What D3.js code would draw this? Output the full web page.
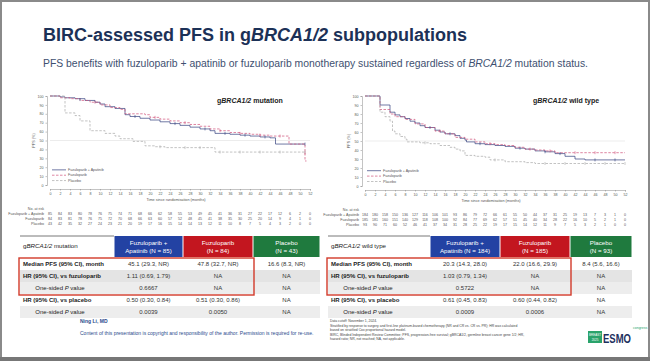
<!DOCTYPE html>
<html>
<head>
<meta charset="utf-8">
<script src="https://cdn.jsdelivr.net/npm/d3@7"></script>
<style>
  body { margin: 0; background: #fff; }
  svg { display: block; font-family: "Liberation Sans", Arial, sans-serif; }
</style>
</head>
<body>
<svg id="slide" width="650" height="361"></svg>
<script>
// x ticks (months) and y ticks (%)
const monthTicks = [0,2,4,6,8,10,12,14,16,18,20,22,24,26,28,30,32,34,36,38,40,42,44,46,48,50,52];
const pctTicks = [0,10,20,30,40,50,60,70,80,90,100];
const armNames = ["Fuzuloparib + Apatinib", "Fuzuloparib", "Placebo"];

// KM steps, gBRCA1/2 mutation  [month, PFS %]
const mutFA  = [[0,100],[2,99],[3,98],[5,97],[7,95],[9,93],[10,91],[11,88],[13,86],[15,79],[16,77],[18,75],[20,73],[22,71],[24,69],[26,67],[28,65],[30,63],[32,61],[33,58],[36,57],[38,56],[40,55],[42,54],[44,53],[45.1,46],[51,46]];
const mutFuz = [[0,100],[2,98],[4,97],[6,95],[8,93],[10,90],[12,87],[14,85],[15,80],[19,79],[20,76],[22,74],[24,72],[26,70],[28,68],[30,66],[32,63],[34,61],[36,59],[38,58],[40,57],[42,56],[44,55],[47.8,46],[51,27],[51.3,27]];
const mutPla = [[0,100],[3,81],[5,78],[6,72],[8,61],[11,58],[13,55],[14,52],[16.6,49],[19,44],[21,43],[23,42],[33,37],[51,37]];
// KM steps, gBRCA1/2 wild type
const wtFA  = [[0,100],[3,90],[5,82],[6,79],[7,77],[8,75],[9,72],[10,70],[11,67],[12,65],[14,62],[15,60],[16,58],[18,56],[19,53],[20,51],[20.3,49],[22,47],[24,46],[26,45],[28,44],[30,42],[32,41],[34,39],[36,38],[38,36],[40,33],[42,30],[44,29],[52,29]];
const wtFuz = [[0,100],[3,85],[5,80],[6,77],[8,74],[10,69],[12,65],[14,61],[16,58],[18,54],[20,52],[22,49],[24,47],[26,46],[28,45],[30,43],[32,41],[34,40],[36,39],[38,37],[52,37]];
const wtPla = [[0,100],[3,82],[4,77],[5,72],[5.5,61],[6,58],[7,55],[8,52],[8.4,49],[11,48],[13,47],[15,45],[17,43],[18,41],[19,39],[20,34],[22,33],[24,32],[25,29],[28,27],[32,26],[34,25],[52,25]];

// censor ticks
const mutFAc  = [[6,96],[17,77],[25,69],[31,63],[35,58],[39,56],[43,54],[51,46]];
const mutFuzc = [[9,93],[21,76],[27,70],[34,61],[38,58],[42,56],[46,55],[51,36]];
const mutPlac = [[22,43],[27,42],[30,42],[34,37],[38,37],[42,37],[46,37],[51,37]];
const wtFAc  = [[13,65],[17,58],[23,47],[31,42],[36,38],[39,36],[46,29],[50,29]];
const wtFuzc = [[15,61],[25,47],[33,41],[37,39],[42,37],[46,37],[50,37]];
const wtPlac = [[12,48],[26,29],[36,25],[40,25],[44,25],[48,25],[52,25]];

// numbers at risk
const mutRiskFA  = [85,84,83,80,78,76,75,74,71,68,66,62,58,55,53,49,45,41,36,31,27,22,17,12,6,2,0];
const mutRiskFuz = [84,83,81,78,76,75,72,70,68,66,63,60,57,52,48,45,41,38,35,30,25,20,14,9,4,1,0];
const mutRiskPla = [43,42,35,32,27,24,23,21,20,19,17,16,15,14,14,13,12,11,10,8,7,5,4,3,2,0,0];
const wtRiskFA  = [184,180,158,150,136,127,116,106,101,93,86,79,72,66,61,55,50,44,37,31,25,19,13,7,3,1,0];
const wtRiskFuz = [185,181,160,151,140,129,118,108,100,92,84,77,69,62,57,51,45,40,34,28,22,16,10,5,2,1,0];
const wtRiskPla = [93,90,71,60,52,46,41,37,34,31,28,25,22,19,17,15,14,12,11,9,7,5,3,2,1,0,0];

// summary tables
const rowLabels = ["Median PFS (95% CI), month", "HR (95% CI), vs fuzuloparib", "One-sided P value", "HR (95% CI), vs placebo", "One-sided P value"];
const mutHeaders = ["Fuzuloparib +|Apatinib (N = 85)", "Fuzuloparib|(N = 84)", "Placebo|(N = 43)"];
const wtHeaders  = ["Fuzuloparib +|Apatinib (N = 184)", "Fuzuloparib|(N = 185)", "Placebo|(N = 93)"];
const mutValues = [
  ["45.1 (29.3, NR)", "47.8 (32.7, NR)", "16.6 (8.3, NR)"],
  ["1.11 (0.69, 1.79)", "NA", "NA"],
  ["0.6667", "NA", "NA"],
  ["0.50 (0.30, 0.84)", "0.51 (0.30, 0.86)", "NA"],
  ["0.0039", "0.0050", "NA"]
];
const wtValues = [
  ["20.3 (14.3, 28.0)", "22.0 (16.6, 29.9)", "8.4 (5.6, 16.6)"],
  ["1.03 (0.79, 1.34)", "NA", "NA"],
  ["0.5722", "NA", "NA"],
  ["0.61 (0.45, 0.83)", "0.60 (0.44, 0.82)", "NA"],
  ["0.0009", "0.0006", "NA"]
];

const footnotes = [
  "Data cutoff: November 1, 2024.",
  "Stratified by response to surgery and first-line platinum-based chemotherapy (NR and CR vs. CR vs. PR); HR was calculated",
  "based on stratified Cox proportional hazard model.",
  "BIRC, Blinded Independent Review Committee; PFS, progression-free survival; gBRCA1/2, germline breast cancer gene 1/2; HR,",
  "hazard ratio; NR, not reached; NA, not applicable."
];

const armColors = ["#34407e", "#d0517a", "#a9a9a9"];
const armDash = [null, "2.5,1.5", "2.5,1.5"];
const headColors = ["#2342a3", "#c3161f", "#1f7a3e"];

const svg = d3.select('#slide');

// slide frame
svg.append('rect').attr('x', 1).attr('y', 1).attr('width', 648).attr('height', 357)
  .attr('fill', '#fff').attr('stroke', '#8a8a8a').attr('stroke-width', 2);
svg.append('rect').attr('x', 0).attr('y', 357).attr('width', 650).attr('height', 4).attr('fill', '#777');

// title
svg.append('text').attr('x', 43).attr('y', 41)
  .attr('font-size', 18).attr('font-weight', 'bold').attr('fill', '#1c3157')
  .call(t => {
    t.append('tspan').text('BIRC-assessed PFS in g');
    t.append('tspan').attr('font-style', 'italic').text('BRCA1/2');
    t.append('tspan').text(' subpopulations');
  });

svg.append('text').attr('x', 43).attr('y', 67)
  .attr('font-size', 10.4).attr('fill', '#3e5070')
  .call(t => {
    t.append('tspan').text('PFS benefits with fuzuloparib + apatinib or fuzuloparib monotherapy sustained regardless of ');
    t.append('tspan').attr('font-style', 'italic').text('BRCA1/2');
    t.append('tspan').text(' mutation status.');
  });

// Kaplan-Meier panel
function drawKM(cfg) {
  const g = svg.append('g');
  const x = d3.scaleLinear().domain([0, 52]).range([cfg.x0, cfg.x1]);
  const y = d3.scaleLinear().domain([0, 100]).range([cfg.yBottom, cfg.yTop]);

  const yAxis = g.append('g').attr('transform', `translate(${cfg.x0 - 3},0)`)
    .call(d3.axisLeft(y).tickValues(pctTicks).tickSize(1.5).tickPadding(2));
  const xAxis = g.append('g').attr('transform', `translate(0,${cfg.yBottom + 4})`)
    .call(d3.axisBottom(x).tickValues(monthTicks).tickSize(1.5).tickPadding(2));
  [xAxis, yAxis].forEach(a => {
    a.selectAll('path,line').attr('stroke', '#888').attr('stroke-width', 0.5);
    a.selectAll('text').attr('font-size', 3.6).attr('fill', '#555').attr('font-family', null);
  });

  // 50% reference
  g.append('line').attr('x1', cfg.x0).attr('x2', cfg.x1)
    .attr('y1', y(50)).attr('y2', y(50))
    .attr('stroke', '#d8d8d8').attr('stroke-width', 0.5);

  g.append('text').attr('transform', `translate(${cfg.x0 - 15},${y(50)}) rotate(-90)`)
    .attr('text-anchor', 'middle').attr('font-size', 3.8).attr('fill', '#555').text('PFS (%)');
  g.append('text').attr('x', (cfg.x0 + cfg.x1) / 2 - 4).attr('y', cfg.yBottom + 16)
    .attr('text-anchor', 'middle').attr('font-size', 3.8).attr('fill', '#555')
    .text('Time since randomisation (months)');

  g.append('text').attr('x', cfg.titleX).attr('y', cfg.yTop + 7)
    .attr('font-size', 7).attr('font-weight', 'bold').attr('fill', '#222')
    .call(t => {
      t.append('tspan').text('g');
      t.append('tspan').attr('font-style', 'italic').text('BRCA1/2');
      t.append('tspan').text(' ' + cfg.title);
    });

  const line = d3.line().x(d => x(d[0])).y(d => y(d[1])).curve(d3.curveStepAfter);
  cfg.curves.forEach((c, i) => {
    g.append('path').datum(c).attr('d', line)
      .attr('fill', 'none').attr('stroke', armColors[i]).attr('stroke-width', 0.7)
      .attr('stroke-dasharray', armDash[i]);
  });
  cfg.censors.forEach((c, i) => {
    g.selectAll(null).data(c).enter().append('line')
      .attr('x1', d => x(d[0])).attr('x2', d => x(d[0]))
      .attr('y1', d => y(d[1]) - 1.5).attr('y2', d => y(d[1]) + 1.5)
      .attr('stroke', armColors[i]).attr('stroke-width', 0.6);
  });

  // legend
  armNames.forEach((n, i) => {
    const ly = y(cfg.legendY[i]);
    g.append('line').attr('x1', cfg.x0 + 2).attr('x2', cfg.x0 + 16).attr('y1', ly).attr('y2', ly)
      .attr('stroke', armColors[i]).attr('stroke-width', 0.7).attr('stroke-dasharray', armDash[i]);
    g.append('text').attr('x', cfg.x0 + 18).attr('y', ly + 1.2)
      .attr('font-size', 3.6).attr('fill', '#555').text(n);
  });

  // number at risk
  const riskTop = cfg.yBottom + 25;
  g.append('text').attr('x', cfg.x0 - 6).attr('y', riskTop)
    .attr('text-anchor', 'end').attr('font-size', 3.6).attr('fill', '#555').text('No. at risk');
  cfg.risk.forEach((r, i) => {
    const ry = riskTop + 5 * (i + 1);
    g.append('text').attr('x', cfg.x0 - 6).attr('y', ry)
      .attr('text-anchor', 'end').attr('font-size', 3.6).attr('fill', '#555').text(armNames[i]);
    g.selectAll(null).data(r).enter().append('text')
      .attr('x', (d, j) => x(monthTicks[j])).attr('y', ry)
      .attr('text-anchor', 'middle').attr('font-size', 3.6).attr('fill', '#555')
      .text(d => d);
  });
}

drawKM({ x0: 50, x1: 310, yTop: 96, yBottom: 185, titleX: 217, title: 'mutation',
  curves: [mutFA, mutFuz, mutPla], censors: [mutFAc, mutFuzc, mutPlac],
  legendY: [17, 11, 5], risk: [mutRiskFA, mutRiskFuz, mutRiskPla] });
drawKM({ x0: 365, x1: 625, yTop: 96, yBottom: 186, titleX: 533, title: 'wild type',
  curves: [wtFA, wtFuz, wtPla], censors: [wtFAc, wtFuzc, wtPlac],
  legendY: [17, 11, 5], risk: [wtRiskFA, wtRiskFuz, wtRiskPla] });

// summary tables
function drawTable(cfg) {
  const g = svg.append('g');
  const headTop = 236, headH = 21, rowH = 12;
  const cols = cfg.cols;        // left edges of 3 value columns + right edge
  g.append('line').attr('x1', cfg.left).attr('x2', cols[0]).attr('y1', headTop).attr('y2', headTop)
    .attr('stroke', '#555').attr('stroke-width', 0.8);
  g.append('text').attr('x', cfg.left + 3).attr('y', headTop + 12)
    .attr('font-size', 6.2).attr('fill', '#222')
    .call(t => {
      t.append('tspan').text('g');
      t.append('tspan').attr('font-style', 'italic').text('BRCA1/2');
      t.append('tspan').text(' ' + cfg.label);
    });
  cfg.headers.forEach((h, i) => {
    g.append('rect').attr('x', cols[i] + 0.5).attr('y', headTop).attr('width', cols[i + 1] - cols[i] - 1)
      .attr('height', headH).attr('fill', headColors[i]);
    h.split('|').forEach((s, k) => {
      g.append('text').attr('x', (cols[i] + cols[i + 1]) / 2).attr('y', headTop + 8.5 + k * 8)
        .attr('text-anchor', 'middle').attr('font-size', 6.2).attr('fill', '#fff').text(s);
    });
  });
  const rowFill = ['#ffffff', '#e4e4e4', '#ededed', '#ffffff', '#ededed'];
  rowLabels.forEach((lab, r) => {
    const ry = headTop + headH + 1 + r * rowH;
    g.append('rect').attr('x', cfg.left).attr('y', ry).attr('width', cols[3] - cfg.left).attr('height', rowH)
      .attr('fill', rowFill[r]);
    const isP = lab.startsWith('One');
    g.append('text').attr('x', isP ? cfg.left + 40 : cfg.left + 3).attr('y', ry + 8.3)
      .attr('text-anchor', isP ? 'middle' : 'start')
      .attr('font-size', 6).attr('font-weight', isP ? 'normal' : 'bold').attr('fill', '#222')
      .call(t => {
        if (isP) {
          t.append('tspan').text('One-sided ');
          t.append('tspan').attr('font-style', 'italic').text('P');
          t.append('tspan').text(' value');
        } else t.text(lab);
      });
    cfg.values[r].forEach((v, c) => {
      g.append('text').attr('x', (cols[c] + cols[c + 1]) / 2).attr('y', ry + 8.3)
        .attr('text-anchor', 'middle').attr('font-size', 6).attr('fill', '#333').text(v);
    });
  });
  g.append('rect').attr('x', cfg.left - 1).attr('y', headTop + headH + 1)
    .attr('width', cols[2] - cfg.left + 2).attr('height', rowH * 3 + 1)
    .attr('fill', 'none').attr('stroke', '#d23a2a').attr('stroke-width', 1.4);
}

drawTable({ left: 20, label: 'mutation', cols: [114, 183, 253, 320], headers: mutHeaders, values: mutValues });
drawTable({ left: 328, label: 'wild type', cols: [430, 500, 570, 632], headers: wtHeaders, values: wtValues });

// footer
svg.append('text').attr('x', 80).attr('y', 323).attr('font-size', 5).attr('font-weight', 'bold')
  .attr('fill', '#2b4b8c').text('Ning Li, MD');
svg.append('text').attr('x', 80).attr('y', 335).attr('font-size', 5).attr('fill', '#2b4b8c')
  .text('Content of this presentation is copyright and responsibility of the author. Permission is required for re-use.');
footnotes.forEach((f, i) => {
  svg.append('text').attr('x', 330).attr('y', 322 + i * 4.6).attr('font-size', 3.4).attr('fill', '#444').text(f);
});

// congress logo
const logo = svg.append('g').attr('transform', 'translate(588,331)');
logo.append('rect').attr('x', 0).attr('y', 0).attr('width', 14).attr('height', 12).attr('fill', '#2aa36b');
logo.append('text').attr('x', 7).attr('y', 5).attr('text-anchor', 'middle').attr('font-size', 3).attr('fill', '#fff').text('BREAST');
logo.append('text').attr('x', 7).attr('y', 9.5).attr('text-anchor', 'middle').attr('font-size', 3).attr('fill', '#fff').text('2025');
logo.append('text').attr('x', 15).attr('y', 12).attr('font-size', 13).attr('font-weight', 'bold')
  .attr('fill', '#1d2f5e').attr('textLength', 28).attr('lengthAdjust', 'spacingAndGlyphs').text('ESMO');
logo.append('text').attr('x', 45).attr('y', -2).attr('font-size', 3.5).attr('fill', '#2aa36b').text('congress');
</script>
</body>
</html>
